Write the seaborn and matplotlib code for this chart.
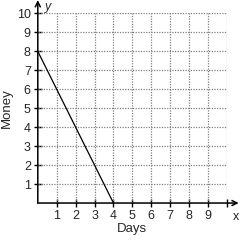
import matplotlib
matplotlib.use("Agg")
import matplotlib.pyplot as plt
import seaborn as sns
import pandas as pd

days = [0, 4]
money = [8, 0]
x_ticks = [1, 2, 3, 4, 5, 6, 7, 8, 9]
y_ticks = [1, 2, 3, 4, 5, 6, 7, 8, 9, 10]
grid_vals = [1, 2, 3, 4, 5, 6, 7, 8, 9, 10]

sns.set_style("white")
plt.rcParams['font.family'] = ['Liberation Sans', 'DejaVu Sans']

fig = plt.figure(figsize=(2.4, 2.4), dpi=100)
ax = fig.add_axes([0.1575, 0.154, 0.788, 0.79])

for g in grid_vals:
    ax.axvline(g, ymin=0, ymax=1, color='#808080', linestyle=(0, (1, 1.1)), linewidth=0.9, zorder=1)
    ax.axhline(g, xmin=0, xmax=1, color='#808080', linestyle=(0, (1, 1.1)), linewidth=0.9, zorder=1)

df = pd.DataFrame({"Days": days, "Money": money})
sns.lineplot(data=df, x="Days", y="Money", color='black', linewidth=0.9, ax=ax, zorder=3)

ax.set_xlim(0, 10)
ax.set_ylim(0, 10)
for s in ['top', 'right', 'left', 'bottom']:
    ax.spines[s].set_visible(False)

# axes with open arrows
ax.annotate('', xy=(10.62, 0), xytext=(0, 0), xycoords='data',
            arrowprops=dict(arrowstyle='->', color='black', lw=1.1, shrinkA=0, shrinkB=0,
                            mutation_scale=9), annotation_clip=False)
ax.annotate('', xy=(0, 10.7), xytext=(0, 0), xycoords='data',
            arrowprops=dict(arrowstyle='->', color='black', lw=1.1, shrinkA=0, shrinkB=0,
                            mutation_scale=9), annotation_clip=False)

ax.set_xticks(x_ticks + [10])
ax.set_xticklabels([str(t) for t in x_ticks] + [''])
ax.set_yticks(y_ticks)
ax.set_yticklabels([str(t) for t in y_ticks])
ax.tick_params(axis='both', which='both', direction='inout', length=6, width=1,
               color='black', labelsize=9, pad=2, bottom=True, left=True)

ax.set_xlabel("Days", fontsize=9.5, labelpad=1)
ax.set_ylabel("Money", fontsize=9.5, labelpad=3)
ax.text(0.35, 10.35, "y", fontsize=9, style='italic', ha='left', va='center', clip_on=False)
ax.text(10.5, -0.75, "x", fontsize=9, ha='center', va='center', clip_on=False)

fig.savefig("out.png", dpi=100)
